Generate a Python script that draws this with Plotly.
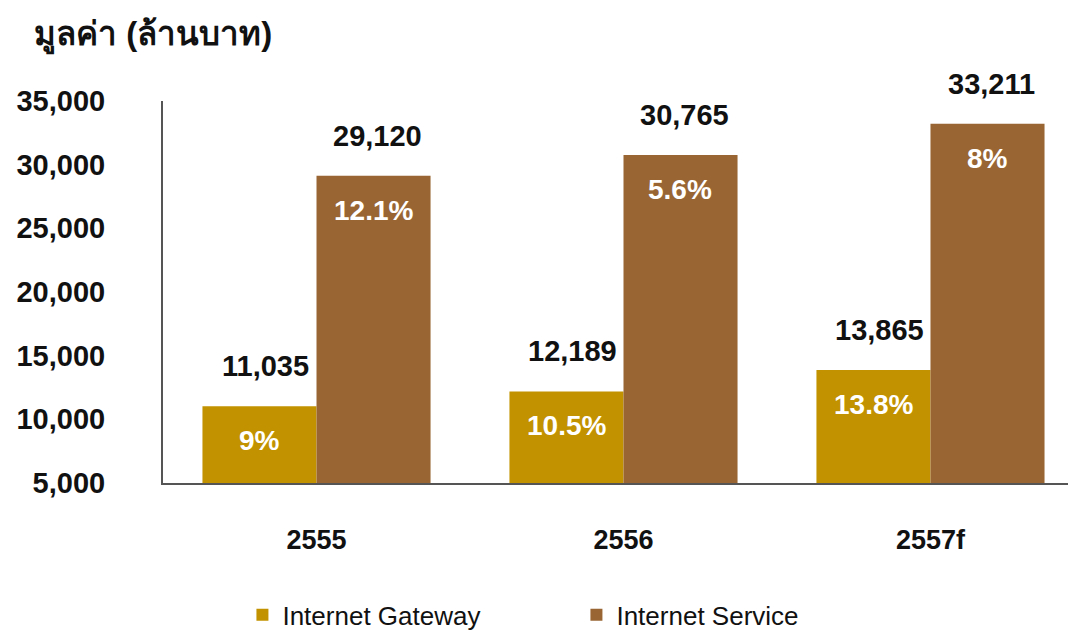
import plotly.graph_objects as go

categories = ["2555", "2556", "2557f"]
gateway_values = [11035, 12189, 13865]
service_values = [29120, 30765, 33211]
gateway_growth = ["9%", "10.5%", "13.8%"]
service_growth = ["12.1%", "5.6%", "8%"]
tick_values = [5000, 10000, 15000, 20000, 25000, 30000, 35000]
tick_labels = ["5,000", "10,000", "15,000", "20,000", "25,000", "30,000", "35,000"]

GATE = "#C29200"
SERV = "#996633"
FONT = "Liberation Sans, Arial, Noto Sans, sans-serif"

fig = go.Figure()
fig.add_trace(go.Bar(name="Internet Gateway", x=categories, y=gateway_values,
                     base=0, marker=dict(color=GATE, line=dict(width=0))))
fig.add_trace(go.Bar(name="Internet Service", x=categories, y=service_values,
                     base=0, marker=dict(color=SERV, line=dict(width=0))))

ann = []
half = 57
for i, (v, g) in enumerate(zip(gateway_values, gateway_growth)):
    ann.append(dict(x=i, y=v, xref="x", yref="y", text=f"<b>{v:,}</b>", showarrow=False,
                    xshift=-half + 6, yshift=40, yanchor="middle",
                    font=dict(size=29, color="#111111", family=FONT)))
    ann.append(dict(x=i, y=v, xref="x", yref="y", text=f"<b>{g}</b>", showarrow=False,
                    xshift=-half, yshift=-34, yanchor="middle",
                    font=dict(size=28, color="white", family=FONT)))
for i, (v, g) in enumerate(zip(service_values, service_growth)):
    ann.append(dict(x=i, y=v, xref="x", yref="y", text=f"<b>{v:,}</b>", showarrow=False,
                    xshift=half + 4, yshift=40, yanchor="middle",
                    font=dict(size=29, color="#111111", family=FONT)))
    ann.append(dict(x=i, y=v, xref="x", yref="y", text=f"<b>{g}</b>", showarrow=False,
                    xshift=half, yshift=-35, yanchor="middle",
                    font=dict(size=28, color="white", family=FONT)))

ann.append(dict(x=-0.143, y=1.173, xref="paper", yref="paper", xanchor="left", yanchor="middle",
                text="<b>มูลค่า (ล้านบาท)</b>", showarrow=False,
                font=dict(size=33, color="#111111", family=FONT)))

# page body has an 8px margin, so the figure is drawn 8px smaller and offset
fig.update_layout(
    width=1068, height=622,
    margin=dict(l=155, r=0, t=93, b=147, autoexpand=False),
    paper_bgcolor="white", plot_bgcolor="white",
    barmode="group", bargap=0.257, bargroupgap=0,
    showlegend=True,
    legend=dict(orientation="h", x=0.087, xanchor="left", y=-0.345, yanchor="middle",
                font=dict(size=26, color="#111111", family=FONT), itemwidth=30,
                entrywidth=289, entrywidthmode="pixels", tracegroupgap=0),
    annotations=ann,
    font=dict(family=FONT),
)
fig.update_xaxes(type="category", range=[-0.5, 2.474], showline=True, linecolor="#555555",
                 linewidth=2, ticks="", showgrid=False, zeroline=False,
                 tickfont=dict(size=27, color="#111111", family=FONT),
                 ticklabelstandoff=32, tickprefix="<b>", ticksuffix="</b>")
fig.update_yaxes(range=[5000, 35000], tickvals=tick_values, ticktext=[f"<b>{t}</b>" for t in tick_labels],
                 showline=True, linecolor="#555555", linewidth=2, ticks="",
                 showgrid=False, zeroline=False,
                 tickfont=dict(size=29, color="#111111", family=FONT),
                 ticklabelstandoff=50)

fig.write_html("out.html")
